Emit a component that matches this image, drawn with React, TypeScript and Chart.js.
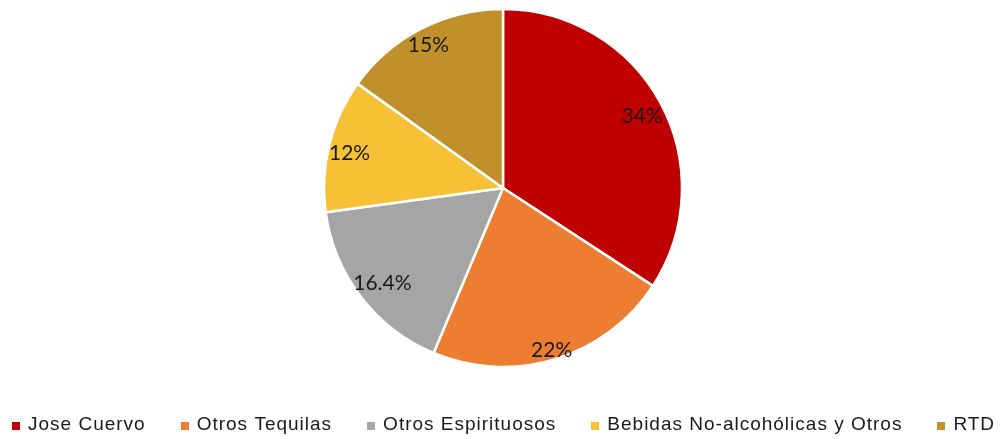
import React, { useEffect, useRef } from "react";
import { Chart, registerables } from "chart.js";

Chart.register(...registerables);

const categories = ["Jose Cuervo", "Otros Tequilas", "Otros Espirituosos", "Bebidas No-alcohólicas y Otros", "RTD"];
const values = [34, 22, 16.4, 12, 15];
const valueLabels = ["34%", "22%", "16.4%", "12%", "15%"];
const colors = ["#C00000", "#ED7D31", "#A5A5A5", "#F7C136", "#C0902A"];

const labelPlugin = {
  id: "sliceLabels",
  afterDatasetsDraw(chart: any) {
    const ctx = chart.ctx;
    const meta = chart.getDatasetMeta(0);
    ctx.save();
    ctx.letterSpacing = "0px";
    ctx.font = "21px Lato";
    ctx.fillStyle = "#1a1a1a";
    ctx.textAlign = "center";
    ctx.textBaseline = "middle";
    meta.data.forEach((arc: any, i: number) => {
      const mid = (arc.startAngle + arc.endAngle) / 2;
      const w = ctx.measureText(valueLabels[i]).width;
      const c = Math.cos(mid);
      const s = Math.sin(mid);
      const ext = Math.abs(c) * w / 2 + Math.abs(s) * 8;
      const r = arc.outerRadius + 1 - ext;
      ctx.fillText(valueLabels[i], arc.x + c * r, arc.y + s * r + 3);
    });
    ctx.restore();
  },
};

const legendPlugin = {
  id: "customLegend",
  afterDraw(chart: any) {
    const ctx = chart.ctx;
    ctx.save();
    ctx.font = "19px 'Liberation Sans', Arial";
    ctx.letterSpacing = "1px";
    ctx.textBaseline = "middle";
    ctx.textAlign = "left";
    const box = 8;
    const boxGap = 8;
    const itemGap = 35;
    const labels: string[] = chart.data.labels;
    const bg: string[] = chart.data.datasets[0].backgroundColor;
    const widths = labels.map((l) => ctx.measureText(l).width);
    const total = widths.reduce((a, w) => a + box + boxGap + w, 0) + itemGap * (labels.length - 1);
    let x = Math.round(503.5 - total / 2);
    const y = 425;
    labels.forEach((l, i) => {
      ctx.fillStyle = bg[i];
      ctx.fillRect(Math.round(x), y - 3, box, box);
      ctx.fillStyle = "#1a1a1a";
      ctx.fillText(l, x + box + boxGap, y);
      x += box + boxGap + widths[i] + itemGap;
    });
    ctx.restore();
  },
};

export default function App() {
  const ref = useRef<HTMLCanvasElement>(null);
  useEffect(() => {
    document.body.style.margin = "0";
    const chart = new Chart(ref.current!, {
      type: "pie",
      data: {
        labels: categories,
        datasets: [
          {
            data: values,
            backgroundColor: colors,
            borderColor: "#ffffff",
            borderWidth: 2.5,
            radius: 179,
          },
        ],
      },
      options: {
        animation: false,
        responsive: false,
        layout: { padding: { top: 0, left: 6, right: 0, bottom: 63 } },
        plugins: {
          tooltip: { enabled: false },
          legend: { display: false },
        },
      },
      plugins: [labelPlugin, legendPlugin],
    });
    return () => chart.destroy();
  }, []);
  return (
    <div style={{ position: "absolute", left: 0, top: 0, width: 1000, height: 439 }}>
      <canvas ref={ref} width={1000} height={439} />
    </div>
  );
}
